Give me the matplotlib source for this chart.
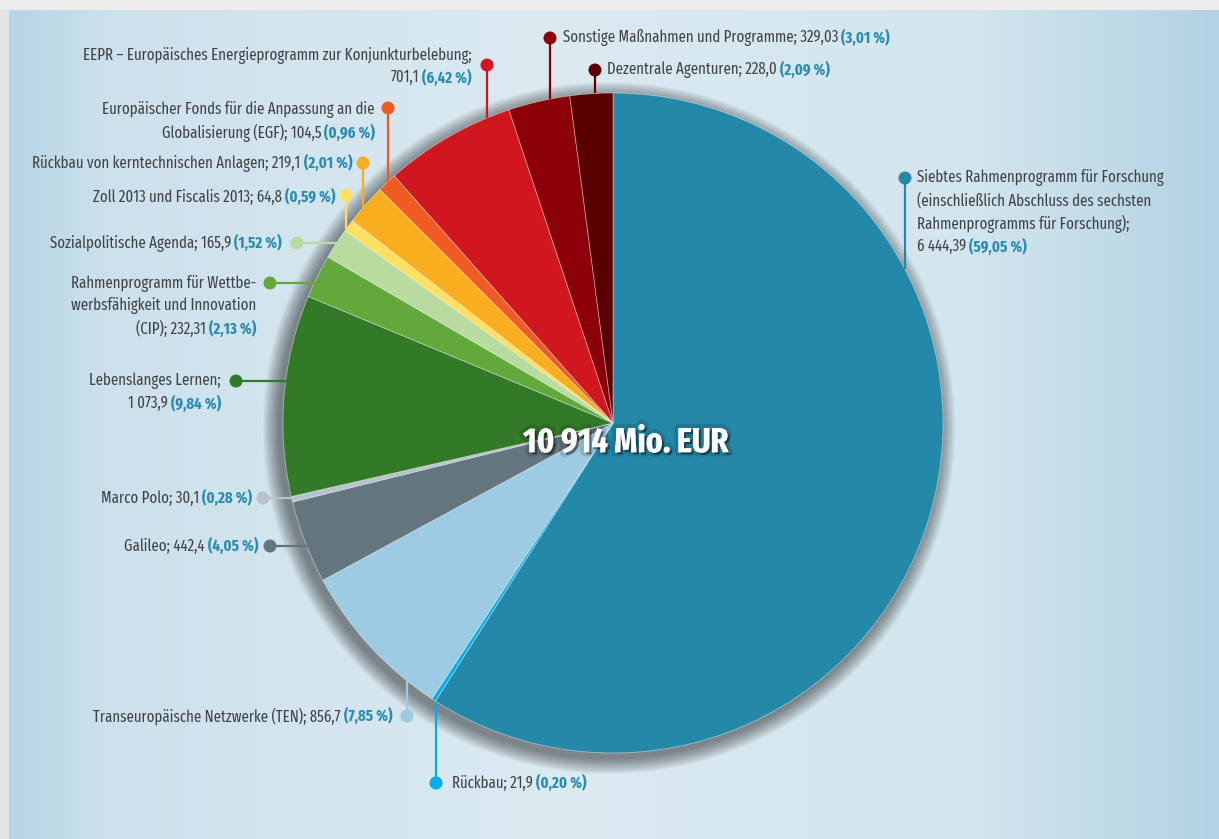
import numpy as np
import matplotlib
matplotlib.use("Agg")
import matplotlib.pyplot as plt
import matplotlib.patheffects as pe
from matplotlib.patches import Circle, Rectangle
from matplotlib.colors import to_rgb

plt.rcParams['font.family'] = ['Fira Sans Extra Condensed', 'Fira Sans Condensed', 'DejaVu Sans']

# ---------------- data ----------------
names = [
    "Siebtes Rahmenprogramm für Forschung\n(einschließlich Abschluss des sechsten\nRahmenprogramms für Forschung);\n",
    "Rückbau; ",
    "Transeuropäische Netzwerke (TEN); ",
    "Galileo; ",
    "Marco Polo; ",
    "Lebenslanges Lernen;\n",
    "Rahmenprogramm für Wettbe-\nwerbsfähigkeit und Innovation\n(CIP); ",
    "Sozialpolitische Agenda; ",
    "Zoll 2013 und Fiscalis 2013; ",
    "Rückbau von kerntechnischen Anlagen; ",
    "Europäischer Fonds für die Anpassung an die\nGlobalisierung (EGF); ",
    "EEPR – Europäisches Energieprogramm zur Konjunkturbelebung;\n",
    "Sonstige Maßnahmen und Programme; ",
    "Dezentrale Agenturen; ",
]
amounts = [6444.39, 21.9, 856.7, 442.4, 30.1, 1073.9, 232.31, 165.9, 64.8,
           219.1, 104.5, 701.1, 329.03, 228.0]
amount_labels = ["6 444,39", "21,9", "856,7", "442,4", "30,1", "1 073,9", "232,31",
                 "165,9", "64,8", "219,1", "104,5", "701,1", "329,03", "228,0"]
pct_labels = ["59,05 %", "0,20 %", "7,85 %", "4,05 %", "0,28 %", "9,84 %", "2,13 %",
              "1,52 %", "0,59 %", "2,01 %", "0,96 %", "6,42 %", "3,01 %", "2,09 %"]
total_label = "10 914 Mio. EUR"

colors = ["#2488a8", "#00aeef", "#9ccbe3", "#63757f", "#b7c3cb", "#327a28", "#62a83a",
          "#b8dca0", "#ffe060", "#f9ae1f", "#f05a24", "#d0161f", "#8b0008", "#5a0003"]

# ---------------- layout (pixel coords, y from top) ----------------
W, H = 1219, 839
CX, CY, R = 613, 423, 330
# (dot_x, dot_y, text_x, first_line_y, ha, leader direction)
layout = [
    (905, 178, 917, 178, 'left', 'v'),
    (436, 783, 452, 783, 'left', 'v'),
    (407, 716, 392, 716, 'right', 'v'),
    (270, 546, 258, 546, 'right', 'h'),
    (263, 498, 252, 498, 'right', 'h'),
    (236, 381, 221, 381, 'right', 'h'),
    (270, 283, 256, 283, 'right', 'h'),
    (297, 243, 282, 243, 'right', 'h'),
    (346, 195, 335, 197, 'right', 'v'),
    (363, 163, 352, 163, 'right', 'v'),
    (388, 108, 375, 110, 'right', 'v'),
    (487, 65, 472, 55, 'right', 'v'),
    (550, 38, 563, 38, 'left', 'v'),
    (595, 70, 607, 70, 'left', 'v'),
]
LINE_H = 22.8
FS = 11.6
GAP = 3
GRAY = "#3f4346"
TEAL = "#2a8db0"

def Y(y):
    return H - y

fig = plt.figure(figsize=(W / 100, H / 100), dpi=100)
fig.patch.set_facecolor("#e4e4e4")
ax = fig.add_axes([0, 0, 1, 1])
ax.set_xlim(0, W)
ax.set_ylim(0, H)
ax.set_aspect('equal')
ax.axis('off')

# background gradient panel
xs = np.linspace(0, 1, 400)
stops = [(0.0, "#b6d5e5"), (0.08, "#cde1ec"), (0.45, "#dceaf2"), (0.8, "#d3e5ee"), (1.0, "#b2d3e3")]
grad = np.zeros((1, len(xs), 3))
for c in range(3):
    grad[0, :, c] = np.interp(xs, [s[0] for s in stops], [to_rgb(s[1])[c] for s in stops])
ax.imshow(grad, extent=[9, W, 0, Y(10)], aspect='auto', zorder=0)
ax.add_patch(Rectangle((0, Y(10)), W, 10, color="#ededed", zorder=0.5, lw=0))

# pie shadow
for k in range(16, 0, -1):
    ax.add_patch(Circle((CX - 4, Y(CY) - 5), R + k, color='black', alpha=0.03, lw=0, zorder=1))

wedges, _ = ax.pie(amounts, colors=colors, startangle=90, counterclock=False,
                   center=(CX, Y(CY)), radius=R, frame=True,
                   wedgeprops=dict(edgecolor=(1, 1, 1, 0.45), linewidth=0.6))
for w in wedges:
    w.set_zorder(2)
ax.set_xlim(0, W)
ax.set_ylim(0, H)
ax.axis('off')

fig.canvas.draw()
renderer = fig.canvas.get_renderer()


def width_of(t):
    bb = t.get_window_extent(renderer=renderer)
    return bb.width


def rich_line(x, y, gray, bold, ha):
    if ha == 'right':
        tb = ax.text(x, Y(y), bold, ha='right', va='center', fontsize=FS,
                     fontweight='bold', color=TEAL, zorder=5)
        wb = width_of(tb)
        ax.text(x - wb - GAP, Y(y), gray.rstrip(), ha='right', va='center', fontsize=FS,
                color=GRAY, zorder=5)
    else:
        tg = ax.text(x, Y(y), gray.rstrip(), ha='left', va='center', fontsize=FS,
                     color=GRAY, zorder=5)
        wg = width_of(tg)
        ax.text(x + wg + GAP, Y(y), bold, ha='left', va='center', fontsize=FS,
                fontweight='bold', color=TEAL, zorder=5)


for i, (dx, dy, tx, ty, ha, dirn) in enumerate(layout):
    full = names[i] + amount_labels[i] + " "
    lines = full.split("\n")
    for j, ln in enumerate(lines):
        y = ty + j * LINE_H
        if j == len(lines) - 1:
            rich_line(tx, y, ln, "(" + pct_labels[i] + ")", ha)
        else:
            ax.text(tx, Y(y), ln, ha=ha, va='center', fontsize=FS, color=GRAY, zorder=5)
    # leader line to pie edge
    if dirn == 'v':
        off = np.sqrt(max(R ** 2 - (dx - CX) ** 2, 0))
        ye = CY - off if dy < CY else CY + off
        ax.plot([dx, dx], [Y(dy), Y(ye)], color=colors[i], lw=1.6, zorder=3,
                solid_capstyle='butt')
    else:
        off = np.sqrt(max(R ** 2 - (dy - CY) ** 2, 0))
        xe = CX - off if dx < CX else CX + off
        ax.plot([dx, xe + 2], [Y(dy), Y(dy)], color=colors[i], lw=1.6, zorder=3,
                solid_capstyle='butt')
    ax.add_patch(Circle((dx, Y(dy)), 6.5, color=colors[i], lw=0, zorder=4))

# center total
ax.text(626, Y(443), total_label, ha='center', va='center', fontsize=25,
        fontweight='bold', color='white', zorder=6,
        path_effects=[pe.withStroke(linewidth=6, foreground=(0, 0, 0, 0.12)),
                      pe.SimplePatchShadow(offset=(1.5, -1.5), shadow_rgbFace='black', alpha=0.45),
                      pe.Normal()])

fig.savefig("out.png", dpi=100, facecolor=fig.get_facecolor())
